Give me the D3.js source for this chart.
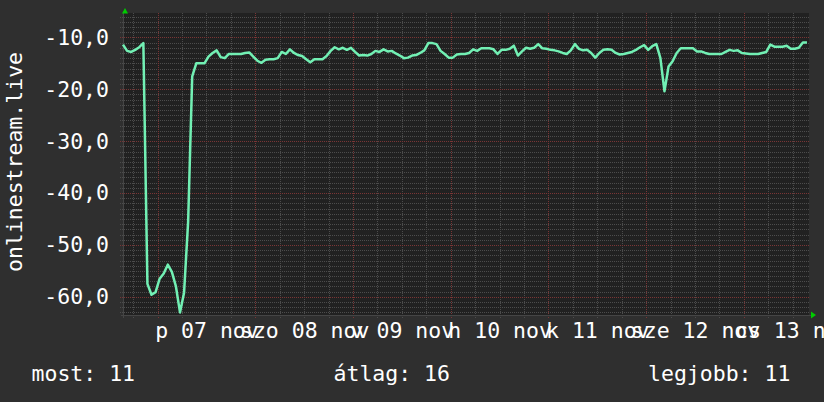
<!DOCTYPE html>
<html><head><meta charset="utf-8">
<script src="https://cdn.jsdelivr.net/npm/d3@7"></script>
<style>html,body{margin:0;padding:0;background:#2f2f2f;} svg{display:block}</style>
</head><body>
<svg id="c" width="824" height="402"></svg>
<script>
// ---------- data ----------
const startTime = new Date(2025, 10, 6, 15, 30);   // first sample
const stepHours = 1;                                 // sample spacing
const values = [
 -11.4,-12.6,-12.8,-12.4,-11.9,-11.1,-57.5,-59.6,-59.1,-56.5,
 -55.5,-53.8,-55.2,-58.0,-63.0,-59.2,-45.5,-17.5,-15.0,-15.0,
 -15.0,-13.7,-13.0,-12.5,-13.8,-14.0,-13.2,-13.2,-13.2,-13.2,
 -13.0,-12.9,-13.7,-14.5,-14.9,-14.3,-14.2,-14.2,-14.0,-12.8,
 -13.2,-12.3,-13.0,-13.4,-13.6,-14.2,-14.8,-14.2,-14.2,-14.2,
 -13.6,-12.6,-11.9,-12.3,-12.0,-12.4,-12.0,-12.8,-13.5,-13.4,
 -13.5,-13.2,-12.6,-12.8,-12.3,-12.7,-12.6,-13.1,-13.5,-14.0,
 -13.9,-13.5,-13.4,-13.0,-12.5,-11.1,-11.1,-11.3,-12.6,-13.2,
 -13.9,-13.9,-13.3,-13.2,-13.2,-13.0,-12.3,-12.6,-12.1,-12.1,
 -12.1,-12.3,-13.2,-12.4,-12.4,-12.2,-11.6,-13.5,-12.7,-12.0,
 -12.2,-12.0,-11.3,-12.1,-12.2,-12.4,-12.5,-12.7,-13.0,-13.2,
 -12.5,-11.3,-12.2,-12.5,-12.4,-13.0,-13.9,-13.0,-12.4,-12.3,
 -12.4,-13.0,-13.3,-13.2,-13.0,-12.8,-12.4,-11.9,-11.5,-12.4,
 -11.7,-11.3,-14.0,-20.4,-15.6,-14.6,-13.0,-12.1,-12.1,-12.1,
 -12.1,-12.7,-12.7,-13.0,-13.2,-13.2,-13.2,-13.2,-12.8,-12.4,
 -12.6,-12.5,-13.0,-13.1,-13.2,-13.2,-13.2,-13.0,-12.8,-11.4,
 -11.8,-11.8,-11.8,-11.6,-12.2,-12.2,-12.0,-11.0,-11.0
];
const yTicks = [-10, -20, -30, -40, -50, -60];
const yDomain = [-63.5, -5.3];
const xTickDays = [7, 8, 9, 10, 11, 12, 13];
const xTickLabels = ["p 07 nov", "szo 08 nov", "v 09 nov", "h 10 nov", "k 11 nov", "sze 12 nov", "cs 13 nov"];
const yLabel = "onlinestream.live";
const legendTexts = ["most: 11", "átlag: 16", "legjobb: 11"];

// ---------- layout / style ----------
const FONT = "'DejaVu Sans Mono', monospace";
const FS = 21.5;
const L = 123, R = 809, T = 13, B = 315;
const C = {
  back: "#2f2f2f", canvas: "#212121", minor: "#4c4c4c", major: "#7a3535",
  axis: "#454545", text: "#ffffff", line: "#72f0b4", arrow: "#00cc00"
};

const svg = d3.select("#c");
svg.append("rect").attr("width", 824).attr("height", 402).attr("fill", C.back);
svg.append("rect").attr("x", L).attr("y", T).attr("width", R - L).attr("height", B - T).attr("fill", C.canvas);

const hour = 3600 * 1000;
const endTime = new Date(+startTime + 168.5 * hour);
const x = d3.scaleTime().domain([startTime, endTime]).range([L, R]);
const y = d3.scaleLinear().domain(yDomain).range([B, T]);

const g = svg.append("g");
const px = v => Math.round(v) + 0.5;

// horizontal grid
const minorY = d3.range(Math.ceil(yDomain[0]), Math.floor(yDomain[1]) + 1).filter(v => v % 10 !== 0);
g.selectAll(".hmin").data(minorY).join("line")
  .attr("x1", L - 3).attr("x2", R).attr("y1", d => px(y(d))).attr("y2", d => px(y(d)))
  .attr("stroke", C.minor).attr("stroke-dasharray", "1,1").attr("shape-rendering", "crispEdges");
// vertical grid
const minorX = d3.timeHour.every(6).range(startTime, endTime).filter(d => d.getHours() !== 0);
const majorX = d3.timeDay.range(startTime, endTime);
g.selectAll(".vmin").data(minorX).join("line")
  .attr("x1", d => px(x(d))).attr("x2", d => px(x(d))).attr("y1", T).attr("y2", B + 3)
  .attr("stroke", C.minor).attr("stroke-dasharray", "1,1").attr("shape-rendering", "crispEdges");
g.selectAll(".hmaj").data(yTicks).join("line")
  .attr("x1", L - 3).attr("x2", R).attr("y1", d => px(y(d))).attr("y2", d => px(y(d)))
  .attr("stroke", C.major).attr("stroke-dasharray", "1,1").attr("shape-rendering", "crispEdges");
g.selectAll(".vmaj").data(majorX).join("line")
  .attr("x1", d => px(x(d))).attr("x2", d => px(x(d))).attr("y1", T).attr("y2", B + 3)
  .attr("stroke", C.major).attr("stroke-dasharray", "1,1").attr("shape-rendering", "crispEdges");

// axis lines
svg.append("line").attr("x1", L - 2).attr("x2", R + 2).attr("y1", B + 0.5).attr("y2", B + 0.5)
  .attr("stroke", C.axis).attr("shape-rendering", "crispEdges");
svg.append("line").attr("x1", L + 0.5).attr("x2", L + 0.5).attr("y1", T - 2).attr("y2", B + 3)
  .attr("stroke", C.axis).attr("shape-rendering", "crispEdges");

// data line
const line = d3.line()
  .x((d, i) => x(new Date(+startTime + i * stepHours * hour)))
  .y(d => y(d));
svg.append("path").datum(values).attr("d", line)
  .attr("fill", "none").attr("stroke", C.line).attr("stroke-width", 2.5).attr("stroke-linejoin", "round");

// arrows
svg.append("path").attr("d", `M${L - 1},${T + 0.5}L${L + 5},${T + 0.5}L${L + 2},${T - 5}Z`).attr("fill", C.arrow);
svg.append("path").attr("d", `M${R + 2},${B - 3.5}L${R + 2},${B + 3.5}L${R + 7},${B}Z`).attr("fill", C.arrow);

// y axis labels
const fmt = d => d.toFixed(1).replace(".", ",");
const yAxis = svg.append("g").attr("transform", `translate(${L},0)`)
  .call(d3.axisLeft(y).tickValues(yTicks).tickFormat(fmt).tickSize(0).tickPadding(14));
yAxis.select(".domain").remove();
yAxis.selectAll("text").attr("fill", C.text).attr("font-family", FONT).attr("font-size", FS);

// x axis labels at noon of each day
const noons = xTickDays.map(d => new Date(2025, 10, d, 12, 0));
const xAxis = svg.append("g").attr("transform", `translate(0,${B})`)
  .call(d3.axisBottom(x).tickValues(noons).tickFormat((d, i) => xTickLabels[i]).tickSize(0).tickPadding(8));
xAxis.select(".domain").remove();
xAxis.selectAll("text").attr("fill", C.text).attr("font-family", FONT).attr("font-size", FS);

// y title
svg.append("text").attr("transform", "translate(22,162) rotate(-90)")
  .attr("text-anchor", "middle").attr("fill", C.text).attr("font-family", FONT).attr("font-size", FS)
  .text(yLabel);

// legend
const legX = [31.5, 333.5, 648];
svg.selectAll(".leg").data(legendTexts).join("text")
  .attr("x", (d, i) => legX[i]).attr("y", 381)
  .attr("fill", C.text).attr("font-family", FONT).attr("font-size", FS)
  .text(d => d);
</script>
</body></html>
